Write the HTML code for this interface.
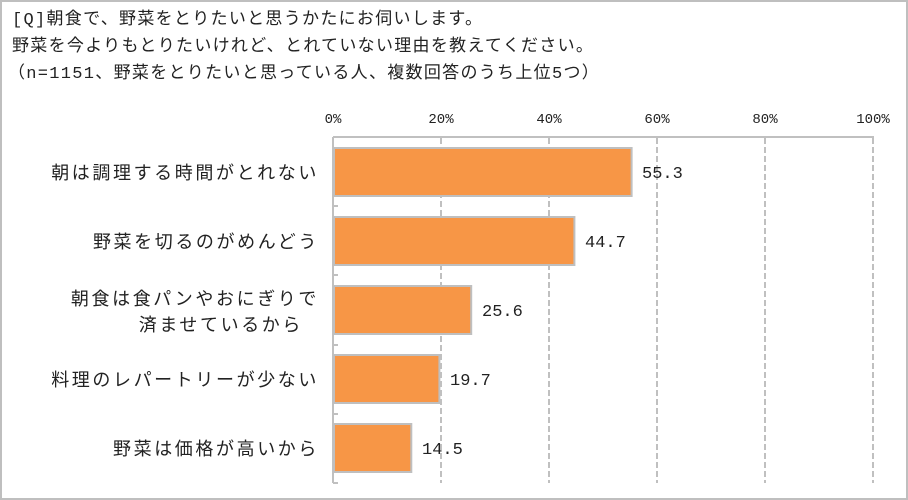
<!DOCTYPE html>
<html><head><meta charset="utf-8"><style>
body{margin:0;background:#fff}
svg{display:block}
text{font-family:"Liberation Mono","Noto Sans CJK JP",monospace;fill:#222}
</style></head><body>
<svg width="908" height="500" xmlns="http://www.w3.org/2000/svg">
<rect x="1" y="1" width="906" height="498" fill="#fff" stroke="#bfbfbf" stroke-width="2"/>
<g font-size="17" letter-spacing="1.3">
<text x="12" y="24">[Q]朝食で、野菜をとりたいと思うかたにお伺いします。</text>
<text x="12" y="51">野菜を今よりもとりたいけれど、とれていない理由を教えてください。</text>
<text x="8" y="78">（n=1151、野菜をとりたいと思っている人、複数回答のうち上位5つ）</text>
</g>
<g font-size="14" text-anchor="middle">
<text x="333" y="123">0%</text><text x="441" y="123">20%</text><text x="549" y="123">40%</text><text x="657" y="123">60%</text><text x="765" y="123">80%</text><text x="873" y="123">100%</text>
</g>
<g stroke="#c0c0c0" stroke-width="2" stroke-dasharray="6,3">
<line x1="441" y1="138" x2="441" y2="483"/><line x1="549" y1="138" x2="549" y2="483"/><line x1="657" y1="138" x2="657" y2="483"/><line x1="765" y1="138" x2="765" y2="483"/><line x1="873" y1="138" x2="873" y2="483"/>
</g>
<g stroke="#c0c0c0" stroke-width="2">
<line x1="333" y1="137" x2="874" y2="137"/>
<line x1="333" y1="137" x2="333" y2="483"/>
<line x1="333" y1="206" x2="338" y2="206"/><line x1="333" y1="275" x2="338" y2="275"/><line x1="333" y1="345" x2="338" y2="345"/><line x1="333" y1="414" x2="338" y2="414"/><line x1="333" y1="483" x2="338" y2="483"/>
</g>
<g fill="#f79646" stroke="#bfbfbf" stroke-width="2">
<rect x="334" y="148" width="297.6" height="48"/>
<rect x="334" y="217" width="240.4" height="48"/>
<rect x="334" y="286" width="137.2" height="48"/>
<rect x="334" y="355" width="105.4" height="48"/>
<rect x="334" y="424" width="77.3" height="48"/>
</g>
<g font-size="17">
<text x="642" y="178">55.3</text>
<text x="585" y="247">44.7</text>
<text x="482" y="316">25.6</text>
<text x="450" y="385">19.7</text>
<text x="422" y="454">14.5</text>
</g>
<g font-size="18" letter-spacing="2.6" text-anchor="end">
<text x="319" y="179">朝は調理する時間がとれない</text>
<text x="319" y="248">野菜を切るのがめんどう</text>
<text x="319" y="305">朝食は食パンやおにぎりで</text>
<text x="303" y="331">済ませているから</text>
<text x="319" y="386">料理のレパートリーが少ない</text>
<text x="319" y="455">野菜は価格が高いから</text>
</g>
</svg>
</body></html>
